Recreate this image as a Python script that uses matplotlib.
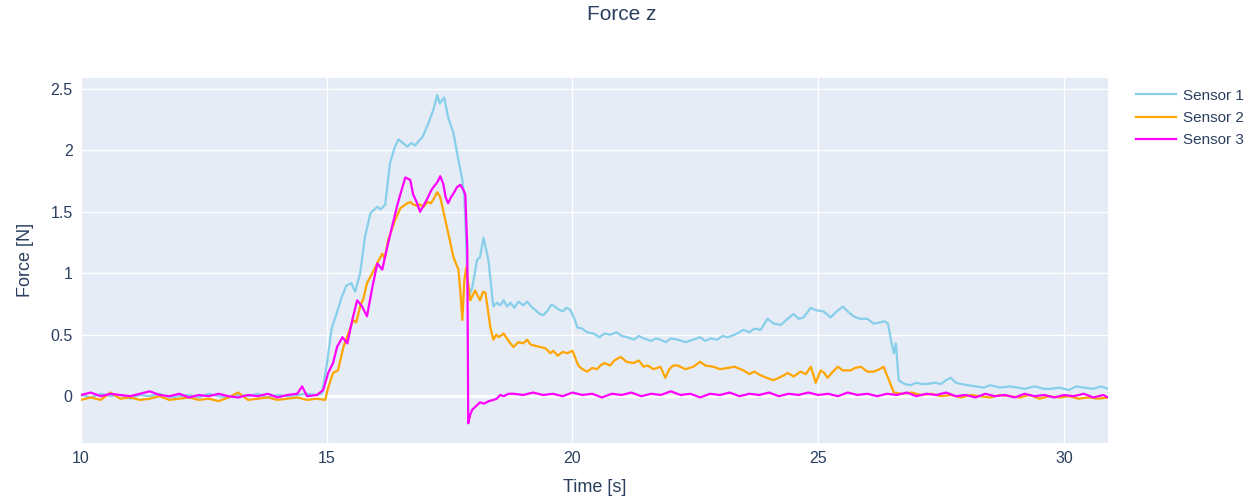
import matplotlib
matplotlib.use("Agg")
import matplotlib.pyplot as plt
from matplotlib.ticker import FuncFormatter

# Sensor 1
t1 = [10.0, 10.2, 10.4, 10.6, 10.8, 11.0, 11.2, 11.4, 11.6, 11.8, 12.0, 12.2, 12.4, 12.6,
      12.8, 13.0, 13.2, 13.4, 13.6, 13.8, 14.0, 14.2, 14.4, 14.6, 14.8, 14.9,
      15.0, 15.1, 15.2, 15.3, 15.4, 15.5, 15.58, 15.68, 15.78, 15.89, 16.03, 16.1, 16.19,
      16.29, 16.38, 16.46, 16.55, 16.64, 16.72, 16.8, 16.88, 16.95, 17.07, 17.17, 17.25,
      17.3, 17.35, 17.39, 17.47, 17.58, 17.68, 17.76, 17.8, 17.84, 17.88, 17.96, 18.06,
      18.12, 18.19, 18.24, 18.29, 18.39, 18.46, 18.53, 18.6, 18.67, 18.74, 18.82, 18.9,
      19.0, 19.08, 19.16, 19.25, 19.33, 19.41, 19.5, 19.56, 19.61, 19.7, 19.8, 19.88,
      19.96, 20.05, 20.1, 20.2, 20.3, 20.43, 20.55, 20.65, 20.77, 20.9, 21.0, 21.12,
      21.25, 21.35, 21.45, 21.6, 21.7, 21.79, 21.9, 22.0, 22.14, 22.3, 22.46, 22.6, 22.7,
      22.81, 22.95, 23.05, 23.16, 23.3, 23.48, 23.6, 23.7, 23.83, 23.97, 24.1, 24.24,
      24.35, 24.5, 24.6, 24.7, 24.85, 24.95, 25.11, 25.2, 25.25, 25.35, 25.5, 25.6, 25.72,
      25.85, 26.0, 26.13, 26.25, 26.35, 26.42, 26.48, 26.54, 26.58, 26.64, 26.75, 26.88,
      27.0, 27.1, 27.23, 27.36, 27.5, 27.6, 27.7, 27.8, 27.9, 28.04, 28.2, 28.37, 28.5,
      28.7, 28.9, 29.06, 29.2, 29.4, 29.6, 29.73, 29.9, 30.1, 30.25, 30.4, 30.6, 30.75, 30.9]
s1 = [0.01, -0.01, 0.02, 0.0, 0.01, -0.02, 0.01, 0.0, 0.02, -0.01, 0.0, 0.01, -0.01, 0.02,
      0.0, -0.01, 0.01, 0.0, 0.02, -0.01, 0.01, 0.0, 0.01, 0.02, 0.01, 0.02,
      0.25, 0.55, 0.67, 0.80, 0.90, 0.92, 0.85, 1.0, 1.3, 1.49, 1.54, 1.52, 1.56,
      1.9, 2.02, 2.09, 2.06, 2.03, 2.06, 2.04, 2.08, 2.11, 2.22, 2.33, 2.45,
      2.38, 2.41, 2.43, 2.27, 2.14, 1.92, 1.76, 1.62, 1.21, 0.81, 0.88, 1.11,
      1.13, 1.29, 1.2, 1.11, 0.73, 0.76, 0.74, 0.78, 0.73, 0.76, 0.72, 0.77,
      0.74, 0.77, 0.73, 0.70, 0.67, 0.66, 0.70, 0.74, 0.74, 0.71, 0.69, 0.72,
      0.70, 0.62, 0.56, 0.55, 0.52, 0.51, 0.48, 0.51, 0.50, 0.52, 0.49, 0.48,
      0.46, 0.49, 0.47, 0.45, 0.47, 0.46, 0.44, 0.47, 0.46, 0.44, 0.46, 0.48, 0.45,
      0.47, 0.46, 0.49, 0.48, 0.50, 0.54, 0.52, 0.55, 0.54, 0.63, 0.59, 0.58,
      0.62, 0.67, 0.63, 0.64, 0.72, 0.70, 0.69, 0.66, 0.64, 0.68, 0.73, 0.69, 0.65,
      0.63, 0.63, 0.59, 0.60, 0.61, 0.59, 0.46, 0.35, 0.43, 0.13, 0.10, 0.09,
      0.11, 0.10, 0.10, 0.11, 0.10, 0.13, 0.15, 0.11, 0.10, 0.09, 0.08, 0.07, 0.09,
      0.07, 0.08, 0.07, 0.06, 0.08, 0.06, 0.06, 0.07, 0.05, 0.08, 0.07, 0.06, 0.08, 0.06]

# Sensor 2
t2 = [10.0, 10.2, 10.4, 10.6, 10.8, 11.0, 11.2, 11.4, 11.6, 11.8, 12.0, 12.2, 12.4, 12.6,
      12.8, 13.0, 13.2, 13.4, 13.6, 13.8, 14.0, 14.2, 14.4, 14.6, 14.8, 14.97,
      15.03, 15.13, 15.23, 15.34, 15.44, 15.54, 15.6, 15.68, 15.75, 15.82, 15.9, 15.99,
      16.05, 16.13, 16.18, 16.25, 16.32, 16.39, 16.5, 16.57, 16.64, 16.7, 16.76, 16.83,
      16.9, 16.97, 17.05, 17.12, 17.17, 17.25, 17.31, 17.37, 17.47, 17.58, 17.68, 17.72,
      17.76, 17.8, 17.84, 17.92, 18.02, 18.12, 18.18, 18.23, 18.33, 18.39, 18.45, 18.5,
      18.6, 18.7, 18.8, 18.9, 19.0, 19.08, 19.15, 19.25, 19.35, 19.45, 19.55, 19.61,
      19.7, 19.8, 19.9, 20.0, 20.12, 20.2, 20.3, 20.4, 20.5, 20.57, 20.65, 20.77, 20.85,
      20.98, 21.1, 21.24, 21.35, 21.45, 21.53, 21.65, 21.79, 21.89, 21.97, 22.05, 22.14,
      22.3, 22.46, 22.6, 22.7, 22.87, 23.0, 23.16, 23.3, 23.48, 23.6, 23.7, 23.83, 23.95,
      24.09, 24.2, 24.3, 24.38, 24.5, 24.64, 24.75, 24.85, 24.95, 25.05, 25.12, 25.19,
      25.3, 25.4, 25.5, 25.66, 25.75, 25.87, 26.0, 26.13, 26.25, 26.33, 26.44, 26.54,
      26.7, 26.9, 27.1, 27.3, 27.5, 27.7, 27.9, 28.1, 28.3, 28.5, 28.7, 28.9, 29.1, 29.3,
      29.5, 29.7, 29.9, 30.1, 30.3, 30.5, 30.7, 30.9]
s2 = [-0.03, -0.01, -0.03, 0.03, -0.02, -0.01, -0.03, -0.02, 0.0, -0.03, -0.02, -0.01, -0.03, -0.02,
      -0.04, -0.01, 0.03, -0.03, -0.02, -0.01, -0.03, -0.02, -0.01, -0.03, -0.02, -0.03,
      0.07, 0.19, 0.21, 0.40, 0.51, 0.62, 0.60, 0.73, 0.80, 0.92, 0.98, 1.05,
      1.10, 1.16, 1.12, 1.27, 1.35, 1.43, 1.53, 1.55, 1.57, 1.58, 1.56, 1.55,
      1.56, 1.54, 1.58, 1.57, 1.60, 1.66, 1.62, 1.51, 1.33, 1.13, 1.03, 0.85,
      0.62, 0.94, 1.05, 0.78, 0.86, 0.78, 0.85, 0.84, 0.56, 0.46, 0.50, 0.48,
      0.51, 0.45, 0.40, 0.44, 0.43, 0.46, 0.42, 0.41, 0.40, 0.39, 0.35, 0.37,
      0.33, 0.36, 0.35, 0.37, 0.25, 0.22, 0.20, 0.23, 0.22, 0.25, 0.27, 0.25, 0.29,
      0.32, 0.28, 0.27, 0.29, 0.24, 0.25, 0.22, 0.24, 0.15, 0.22, 0.25, 0.25,
      0.22, 0.24, 0.28, 0.25, 0.24, 0.22, 0.23, 0.24, 0.21, 0.18, 0.20, 0.17, 0.15,
      0.13, 0.15, 0.17, 0.19, 0.16, 0.20, 0.18, 0.24, 0.11, 0.21, 0.19, 0.15,
      0.20, 0.24, 0.21, 0.21, 0.23, 0.24, 0.20, 0.20, 0.22, 0.24, 0.13, 0.03,
      0.02, 0.03, 0.01, 0.02, 0.0, 0.01, -0.01, 0.01, 0.0, -0.01, 0.01, 0.0, -0.01, 0.01,
      -0.02, 0.0, -0.01, 0.0, -0.02, -0.01, -0.02, -0.01]

# Sensor 3
t3 = [10.0, 10.2, 10.4, 10.6, 10.8, 11.0, 11.2, 11.4, 11.6, 11.8, 12.0, 12.2, 12.4, 12.6,
      12.8, 13.0, 13.2, 13.4, 13.6, 13.8, 14.0, 14.2, 14.4, 14.5, 14.6, 14.8,
      14.93, 15.03, 15.13, 15.21, 15.32, 15.42, 15.52, 15.62, 15.72, 15.82, 15.93, 16.03,
      16.13, 16.23, 16.33, 16.44, 16.54, 16.6, 16.7, 16.76, 16.83, 16.9, 16.97, 17.05,
      17.12, 17.17, 17.25, 17.31, 17.37, 17.42, 17.47, 17.53, 17.58, 17.65, 17.72, 17.78,
      17.82, 17.86, 17.88, 17.92, 17.96, 18.04, 18.12, 18.2, 18.3, 18.39, 18.46, 18.53,
      18.6, 18.7, 18.8, 19.0, 19.2, 19.4, 19.6, 19.8, 20.0, 20.2, 20.4, 20.6, 20.8, 21.0,
      21.2, 21.4, 21.6, 21.8, 22.0, 22.2, 22.4, 22.6, 22.8, 23.0, 23.2, 23.4, 23.6, 23.8,
      24.0, 24.2, 24.4, 24.6, 24.8, 25.0, 25.2, 25.4, 25.6, 25.8, 26.0, 26.2, 26.4, 26.6,
      26.8, 27.0, 27.2, 27.4, 27.6, 27.8, 28.0, 28.2, 28.4, 28.6, 28.8, 29.0, 29.2, 29.4,
      29.6, 29.8, 30.0, 30.2, 30.4, 30.6, 30.8, 30.9]
s3 = [0.01, 0.03, 0.0, 0.02, 0.01, 0.0, 0.02, 0.04, 0.01, 0.0, 0.02, -0.01, 0.01, 0.0,
      0.02, 0.0, -0.01, 0.01, 0.0, 0.02, -0.01, 0.01, 0.02, 0.08, 0.0, 0.01,
      0.05, 0.19, 0.27, 0.40, 0.48, 0.43, 0.62, 0.78, 0.73, 0.65, 0.89, 1.08,
      1.03, 1.21, 1.38, 1.56, 1.70, 1.78, 1.76, 1.64, 1.58, 1.50, 1.55, 1.61,
      1.67, 1.70, 1.74, 1.79, 1.73, 1.62, 1.57, 1.62, 1.65, 1.70, 1.72, 1.68,
      1.64, 1.21, -0.22, -0.15, -0.11, -0.08, -0.05, -0.06, -0.04, -0.03, -0.02, 0.01,
      0.0, 0.02, 0.02, 0.01, 0.03, 0.01, 0.02, 0.0, 0.03, 0.01, 0.02, -0.01, 0.02, 0.01,
      0.03, 0.0, 0.02, 0.01, 0.04, 0.01, 0.02, -0.01, 0.02, 0.01, 0.03, 0.0, 0.02, 0.01,
      0.03, 0.0, 0.02, 0.01, 0.03, 0.01, 0.02, 0.0, 0.03, 0.01, 0.02, 0.0, 0.02, 0.01,
      0.03, 0.0, 0.02, 0.01, 0.03, 0.0, 0.01, -0.01, 0.02, 0.0, 0.01, -0.01, 0.02, 0.0,
      0.01, -0.01, 0.01, 0.0, 0.02, -0.01, 0.01, -0.01]

series = [("Sensor 1", t1, s1, "#87CEEB"),
          ("Sensor 2", t2, s2, "#FFA500"),
          ("Sensor 3", t3, s3, "#FF00FF")]

text_color = "#2a3f5f"
plt.rcParams["font.family"] = ["Liberation Sans", "DejaVu Sans"]

fig = plt.figure(figsize=(12.55, 4.96), dpi=100)
ax = fig.add_axes([0.0645, 0.107, 0.8185, 0.736])
ax.set_facecolor("#E5ECF6")

for name, t, s, color in series:
    ax.plot(t, s, color=color, lw=1.6, label=name)

ax.set_xlim(10, 30.9)
ax.set_ylim(-0.38, 2.59)
ax.set_xticks([10, 15, 20, 25, 30])
ax.set_yticks([0, 0.5, 1, 1.5, 2, 2.5])
ax.yaxis.set_major_formatter(FuncFormatter(lambda v, p: f"{v:g}"))
ax.grid(True, color="white", lw=1)
ax.axhline(0, color="white", lw=2, zorder=1)
ax.set_axisbelow(True)
for sp in ax.spines.values():
    sp.set_visible(False)
ax.tick_params(length=0, labelsize=11.5, colors=text_color, pad=6)

ax.set_xlabel("Time [s]", fontsize=13, color=text_color, labelpad=9)
ax.set_ylabel("Force [N]", fontsize=13, color=text_color, labelpad=12)
fig.text(0.495, 0.97, "Force z", ha="center", va="center", fontsize=15, color=text_color)

leg = ax.legend(loc="upper left", bbox_to_anchor=(1.017, 1.0), frameon=False,
                fontsize=11, handlelength=2.6, handletextpad=0.45,
                labelspacing=0.55, borderaxespad=0.3)
for txt in leg.get_texts():
    txt.set_color(text_color)

fig.savefig("out.png", dpi=100)
